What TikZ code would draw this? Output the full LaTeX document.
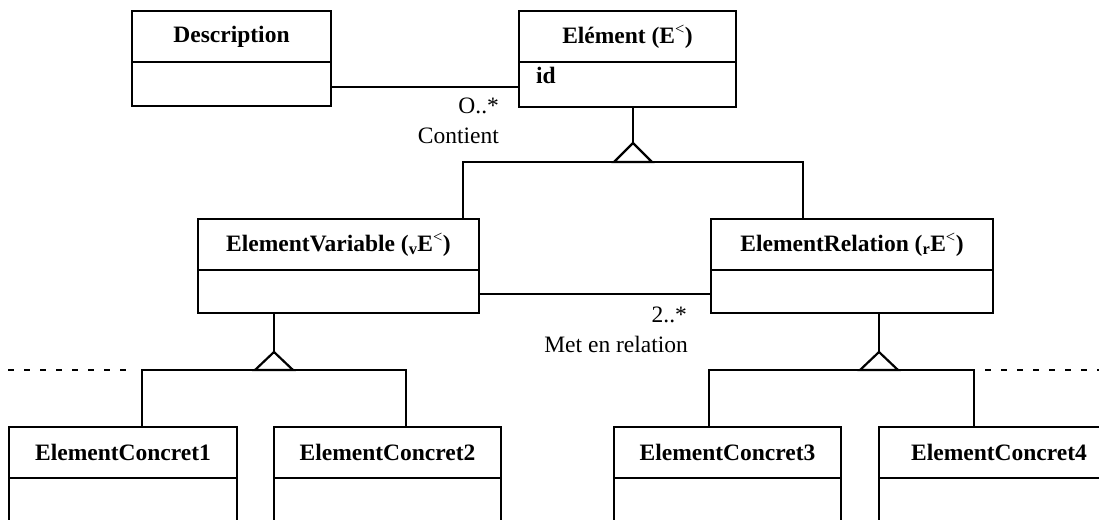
\documentclass[tikz,border=0pt]{standalone}
\usepackage{fontspec}
\setmainfont{Liberation Serif}
\usetikzlibrary{calc}
\begin{document}
\begin{tikzpicture}[x=1pt,y=-1pt,line width=2.2pt,
  hdr/.style={draw,rectangle,inner sep=0pt,outer sep=0pt,anchor=north west,minimum height=51pt,font=\fontsize{23.5}{28}\selectfont\bfseries},
  bodybox/.style={draw,rectangle,inner sep=0pt,outer sep=0pt,anchor=north},
  lbl/.style={font=\fontsize{23.5}{28}\selectfont,inner sep=0pt,anchor=base east},
  dotline/.style={dash pattern=on 6pt off 10pt}]
\useasboundingbox (0,0) rectangle (1099,519);
\clip (0,0) rectangle (1099,519);
% classes
\node[hdr,minimum width=199pt] (descH) at (132,11) {Description};
\node[bodybox,minimum width=199pt,minimum height=44pt] (descB) at (descH.south) {};
\node[hdr,minimum width=217pt] (elH) at (519,11) {Elément (E\textsuperscript{\mdseries <})};
\node[bodybox,minimum width=217pt,minimum height=45pt] (elB) at (elH.south) {};
\node[font=\fontsize{23.5}{28}\selectfont\bfseries,inner sep=0pt,anchor=base west] (id) at ([xshift=16pt,yshift=-21pt]elB.north west) {id};
\node[hdr,minimum width=281pt] (evH) at (198,219) {ElementVariable (\textsubscript{v}E\textsuperscript{\mdseries <})};
\node[bodybox,minimum width=281pt,minimum height=43pt] (evB) at (evH.south) {};
\node[hdr,minimum width=282pt] (erH) at (711,219) {ElementRelation (\textsubscript{r}E\textsuperscript{\mdseries <})};
\node[bodybox,minimum width=282pt,minimum height=43pt] (erB) at (erH.south) {};
\node[hdr,minimum width=228pt] (ec1H) at (9,427) {ElementConcret1};
\node[bodybox,minimum width=228pt,minimum height=100pt] (ec1B) at (ec1H.south) {};
\node[hdr,minimum width=227pt] (ec2H) at (274,427) {ElementConcret2};
\node[bodybox,minimum width=227pt,minimum height=100pt] (ec2B) at (ec2H.south) {};
\node[hdr,minimum width=227pt] (ec3H) at (614,427) {ElementConcret3};
\node[bodybox,minimum width=227pt,minimum height=100pt] (ec3B) at (ec3H.south) {};
\node[hdr,minimum width=240pt] (ec4H) at (879,427) {ElementConcret4};
\node[bodybox,minimum width=240pt,minimum height=100pt] (ec4B) at (ec4H.south) {};
% associations
\draw ([yshift=-3pt]descB.east) -- ([yshift=-3pt]descB.east -| elB.west);
\node[lbl] (m1) at (500,113) {O..*};
\node[lbl] (r1) at (500,143) {Contient};
\draw ([yshift=-2.5pt]evB.east) -- ([yshift=-2.5pt]evB.east -| erB.west);
\node[lbl] (m2) at (688,322) {2..*};
\node[lbl] (r2) at (689,352) {Met en relation};
% generalization from Element
\coordinate (elS) at ([xshift=5.5pt]elB.south);
\coordinate (elApex) at ($(elS)+(0,36)$);
\coordinate (elBase) at ($(elApex)+(0,19)$);
\coordinate (evTop) at ($(evH.north west)+(265,0)$);
\coordinate (erTop) at ($(erH.north west)+(92,0)$);
\draw (elS) -- (elApex);
\draw (evTop) |- (elBase) -| (erTop);
\draw[fill=white] (elApex) -- ++(-19,19) -- ++(38,0) -- cycle;
% generalization from ElementVariable
\coordinate (evS) at ($(evB.south west)+(76,0)$);
\coordinate (evApex) at ($(evS)+(0,39)$);
\coordinate (evBase) at ($(evApex)+(0,18)$);
\coordinate (ec1Top) at ($(ec1H.north west)+(133,0)$);
\coordinate (ec2Top) at ($(ec2H.north west)+(132,0)$);
\coordinate (dotA) at (8,370);
\coordinate (dotB) at (134,370);
\draw (evS) -- (evApex);
\draw (ec1Top) |- (evBase) -| (ec2Top);
\draw[fill=white] (evApex) -- ++(-19,18) -- ++(38,0) -- cycle;
\draw[dotline] (dotA) -- (dotB);
% generalization from ElementRelation
\coordinate (erS) at ($(erB.south west)+(168,0)$);
\coordinate (erApex) at ($(erS)+(0,39)$);
\coordinate (erBase) at ($(erApex)+(0,18)$);
\coordinate (ec3Top) at ($(ec3H.north west)+(95,0)$);
\coordinate (ec4Top) at ($(ec4H.north west)+(95,0)$);
\coordinate (dotC) at (985,370);
\coordinate (dotD) at (1099,370);
\draw (erS) -- (erApex);
\draw (ec3Top) |- (erBase) -| (ec4Top);
\draw[fill=white] (erApex) -- ++(-19,18) -- ++(38,0) -- cycle;
\draw[dotline] (dotC) -- (dotD);
\end{tikzpicture}
\end{document}
